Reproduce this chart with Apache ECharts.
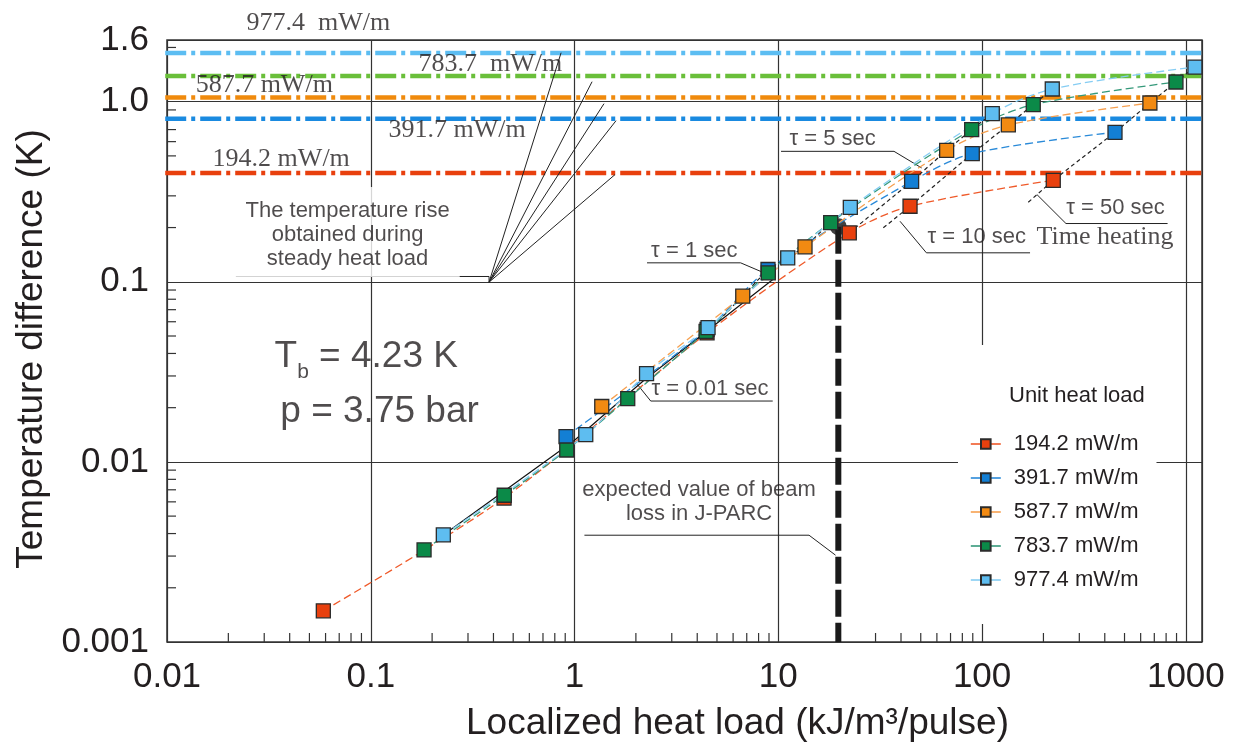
<!DOCTYPE html>
<html>
<head>
<meta charset="utf-8">
<script src="https://cdn.jsdelivr.net/npm/echarts@6.0.0/dist/echarts.min.js"></script>
<style>
  html, body { margin: 0; padding: 0; background: #fff; }
  #chart { width: 1242px; height: 747px; }
</style>
</head>
<body>
<div id="chart"></div>
<script>
// localized heat load (kJ/m3/pulse) vs temperature difference (K), one pair per unit heat load
const seriesNames = ['194.2 mW/m', '391.7 mW/m', '587.7 mW/m', '783.7 mW/m', '977.4 mW/m'];
const heat194 = [0.0585, 0.451, 4.47, 22.3, 44.3, 223.5];
const dT194 = [0.00149, 0.0063, 0.052, 0.187, 0.2626, 0.366];
const heat392 = [0.908, 4.47, 8.9, 45.1, 89.5, 449];
const dT392 = [0.0138, 0.0544, 0.117, 0.361, 0.515, 0.676];
const heat588 = [1.36, 6.69, 13.52, 67.0, 134.5, 666];
const dT588 = [0.0203, 0.0832, 0.1564, 0.537, 0.743, 0.983];
const heat784 = [0.1826, 0.452, 0.9156, 1.824, 4.42, 8.93, 18.07, 88.9, 178.3, 894];
const dT784 = [0.003246, 0.00653, 0.01164, 0.02244, 0.053, 0.112, 0.2133, 0.6995, 0.962, 1.286];
const heat977 = [0.227, 1.135, 2.256, 4.52, 11.12, 22.56, 112.2, 221, 1108];
const dT977 = [0.003934, 0.01417, 0.0309, 0.0556, 0.1359, 0.2589, 0.858, 1.176, 1.557];

// temperature rise during steady heat load (K)
const steadyDT = [0.402, 0.805, 1.056, 1.388, 1.863];

// time constant lines
const tau50X = [168.5, 223.5, 449, 666, 894, 1108];
const tau50Y = [0.2764, 0.366, 0.676, 0.983, 1.286, 1.557];
const tau10X = [32.75, 44.3, 89.5, 134.5, 178.3, 221];
const tau10Y = [0.1993, 0.2626, 0.515, 0.743, 0.962, 1.176];
const tau5X = [22.3, 45.1, 67.0, 88.9, 112.2];
const tau5Y = [0.187, 0.361, 0.537, 0.6995, 0.858];
const tau1X = [3.3, 4.47, 8.9, 13.52, 18.07, 22.56];
const tau1Y = [0.0411, 0.052, 0.117, 0.1564, 0.2133, 0.2589];
const tau001X = [0.227, 1.0, 2.2, 9.4];
const tau001Y = [0.00393, 0.0132, 0.0285, 0.103];

// expected beam loss in J-PARC
const beamLossX = 19.7;
const beamLossY = 0.202;

const xTickLabels = ['0.01', '0.1', '1', '10', '100', '1000'];
const yTickLabels = ['0.001', '0.01', '0.1', '1.0', '1.6'];

const markerColors = ['#e8400e', '#137fd4', '#f28a12', '#0b8a48', '#5ebdf0'];
const curveColors = ['#ef5a2a', '#2a8ad8', '#f6a050', '#35997a', '#86cdf3'];
const steadyColors = ['#e8400e', '#1a8ae0', '#f08a0c', '#6abf3a', '#5cbdf2'];
const ink = '#231f20';
const sans = '"Liberation Sans", Arial, sans-serif';
const serif = '"Liberation Serif", "Times New Roman", serif';

const zip = (xs, ys) => xs.map((x, i) => [x, ys[i]]);
const measured = [zip(heat194, dT194), zip(heat392, dT392), zip(heat588, dT588), zip(heat784, dT784), zip(heat977, dT977)];

// annotation leader lines, in data units
const leaders = [
  [[0.0218, 0.107], [0.3806, 0.107], [0.3806, 0.0995]],
  [[0.3806, 0.0995], [0.859, 1.87]],
  [[0.3806, 0.0995], [1.219, 1.291]],
  [[0.3806, 0.0995], [1.395, 0.975]],
  [[0.3806, 0.0995], [1.598, 0.784]],
  [[0.3806, 0.0995], [1.58, 0.3937]],
  [[10.31, 0.53], [36.96, 0.53], [50.5, 0.4287]],
  [[39.55, 0.2168], [53.3, 0.1448], [171.9, 0.1448]],
  [[185.9, 0.3049], [258.0, 0.2106], [813.4, 0.2106]],
  [[2.268, 0.1274], [6.531, 0.1274], [8.655, 0.1112]],
  [[2.033, 0.02694], [2.365, 0.02177], [9.387, 0.02177]],
  [[1.118, 0.003917], [14.15, 0.003917], [19.09, 0.003034]]
];

// text notes anchored in data units
const notes = [
  { text: '977.4  mW/m', at: [0.0247, 2.707], font: serif, size: 26 },
  { text: '783.7  mW/m', at: [0.1726, 1.604], font: serif, size: 26 },
  { text: '587.7 mW/m', at: [0.0139, 1.227], font: serif, size: 26 },
  { text: '391.7 mW/m', at: [0.123, 0.6905], font: serif, size: 26 },
  { text: '194.2 mW/m', at: [0.01684, 0.4769], font: serif, size: 26 },
  { text: 'Time heating', at: [185.9, 0.1765], font: serif, size: 26 },
  { text: 'τ = 5 sec', at: [11.41, 0.6155] },
  { text: 'τ = 10 sec', at: [54.26, 0.1761] },
  { text: 'τ = 50 sec', at: [260, 0.2549] },
  { text: 'τ = 1 sec', at: [2.389, 0.1478] },
  { text: 'τ = 0.01 sec', at: [2.401, 0.02527] },
  { text: 'expected value of beam\nloss in J-PARC', at: [4.107, 0.005937], align: 'center' },
  { text: 'The temperature rise\nobtained during\nsteady heat load', at: [0.0774, 0.1877], align: 'center', bg: true },
  { text: '{m|T}{s|b}{m| = 4.23 K}', at: [0.0339, 0.04847], valign: 'top' },
  { text: 'p = 3.75 bar', at: [0.03617, 0.01877], size: 37 }
];

const minorTicks = [];
for (let e = -3; e <= 0; e++) {
  for (let m = 2; m <= 9; m++) {
    if (m * Math.pow(10, e) < 2.2) minorTicks.push([0.01, m * Math.pow(10, e), 0]);
  }
}
for (let e = -2; e <= 2; e++) {
  for (let m = 2; m <= 9; m++) minorTicks.push([m * Math.pow(10, e), 0.001, 1]);
}

const series = [];

steadyDT.forEach((v, i) => {
  series.push({
    type: 'line', silent: true, symbol: 'none',
    data: [[0.0098, v], [1200, v]],
    lineStyle: { color: steadyColors[i], width: 4.5, type: [21, 5, 4, 5] }
  });
});

leaders.forEach((pts) => {
  series.push({
    type: 'line', silent: true, symbol: 'none', data: pts,
    lineStyle: { color: '#222', width: 1 }
  });
});

[zip(tau50X, tau50Y), zip(tau10X, tau10Y), zip(tau5X, tau5Y), zip(tau1X, tau1Y)].forEach((pts) => {
  series.push({
    type: 'line', silent: true, symbol: 'none', data: pts,
    lineStyle: { color: '#222', width: 1.2, type: [4, 3] }
  });
});
series.push({
  type: 'line', silent: true, symbol: 'none', data: zip(tau001X, tau001Y),
  lineStyle: { color: '#111', width: 1.2 }
});

measured.forEach((pts, i) => {
  series.push({
    name: seriesNames[i], type: 'line', data: pts, smooth: 0.3,
    symbol: 'rect', symbolSize: 14, showAllSymbol: true,
    lineStyle: { color: curveColors[i], width: 1.3, type: [8, 4] },
    itemStyle: { color: markerColors[i], borderColor: '#2b2b2b', borderWidth: 1.3 }
  });
});

series.push({
  type: 'line', silent: true, symbol: 'none',
  data: [[beamLossX, beamLossY], [beamLossX, 0.001]],
  lineStyle: { color: '#1a1a1a', width: 6, type: [27, 6] }
});
series.push({
  type: 'scatter', silent: true, symbol: 'circle', symbolSize: 17,
  data: [[beamLossX, beamLossY]], itemStyle: { color: '#111' }
});

series.push({
  type: 'custom', silent: true, data: minorTicks,
  encode: { x: 0, y: 1 },
  renderItem: (params, api) => {
    const p = api.coord([api.value(0), api.value(1)]);
    const up = api.value(2) === 1;
    return {
      type: 'line',
      shape: { x1: p[0], y1: p[1], x2: up ? p[0] : p[0] + 9, y2: up ? p[1] - 9 : p[1] },
      style: { stroke: '#333', lineWidth: 1.2 }
    };
  }
});

series.push({
  type: 'scatter', silent: true, clip: false, symbolSize: 1, z: 6,
  itemStyle: { color: 'rgba(0,0,0,0)' },
  data: notes.map((n) => ({
    value: n.at,
    label: {
      show: true, position: [0, 0], formatter: n.text,
      align: n.align || 'left', verticalAlign: n.valign || 'middle',
      fontFamily: n.font || sans, fontSize: n.size || 22, lineHeight: 24, color: ink,
      backgroundColor: n.bg ? '#fff' : 'transparent',
      padding: n.bg ? [12, 10, 6, 10] : 0,
      rich: {
        m: { fontSize: 37, lineHeight: 37, fontFamily: sans, color: ink, verticalAlign: 'top' },
        s: { fontSize: 21, lineHeight: 45, fontFamily: sans, color: ink, verticalAlign: 'bottom' }
      }
    }
  }))
});

const chart = echarts.init(document.getElementById('chart'));
chart.setOption({
  animation: false,
  backgroundColor: '#fff',
  title: {
    text: 'Unit heat load', left: 1009, top: 385, padding: 0,
    textStyle: { fontSize: 22, fontWeight: 'normal', color: ink, fontFamily: sans }
  },
  legend: {
    data: seriesNames, orient: 'vertical', left: 958, top: 345,
    padding: [88, 18, 33, 12], itemGap: 12, itemWidth: 30, itemHeight: 12,
    backgroundColor: '#fff', selectedMode: false,
    textStyle: { fontSize: 22, color: ink, fontFamily: sans, padding: [0, 0, 0, 8] },
    lineStyle: { type: 'solid', width: 1.6 }
  },
  grid: { left: 167, right: 40, top: 40, bottom: 104, show: true, borderColor: '#333', borderWidth: 1.5 },
  xAxis: {
    type: 'log', logBase: 10, min: 0.01, max: 1200,
    name: 'Localized heat load (kJ/m³/pulse)', nameLocation: 'middle', nameGap: 63,
    nameTextStyle: { fontSize: 37, color: ink, fontFamily: sans, padding: [0, 0, 0, 106] },
    axisLine: { show: false }, axisTick: { show: false },
    axisLabel: { fontSize: 35, color: ink, fontFamily: sans, margin: 18, formatter: (v, i) => xTickLabels[i] || '' },
    splitLine: { show: true, lineStyle: { color: '#333', width: 1.2 } }
  },
  yAxis: {
    type: 'log', logBase: 10, min: 0.001, max: 2.2,
    name: 'Temperature difference (K)', nameLocation: 'middle', nameGap: 112,
    nameTextStyle: { fontSize: 37, color: ink, fontFamily: sans, padding: [0, 16, 0, 0] },
    axisLine: { show: false }, axisTick: { show: false },
    axisLabel: { fontSize: 35, color: ink, fontFamily: sans, margin: 18, formatter: (v, i) => yTickLabels[i] || '' },
    splitLine: { show: true, lineStyle: { color: '#333', width: 1.2 } }
  },
  series: series
});
</script>
</body>
</html>
